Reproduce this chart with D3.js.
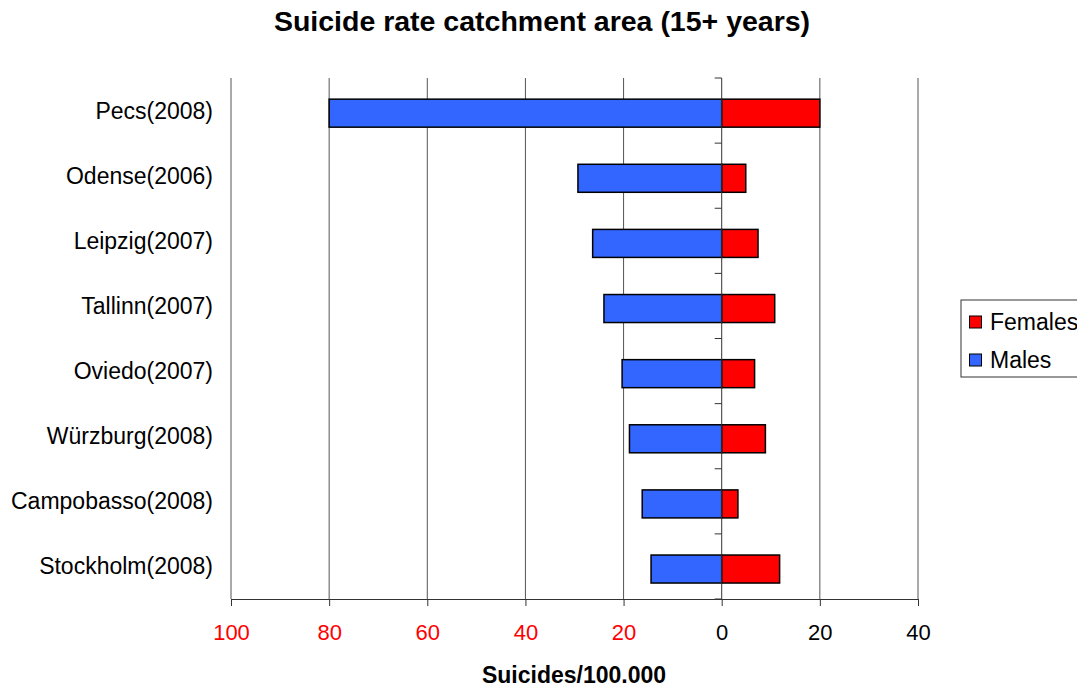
<!DOCTYPE html>
<html>
<head>
<meta charset="utf-8">
<script src="https://cdn.jsdelivr.net/npm/d3@7"></script>
<style>
  body { margin: 0; background: #fff; overflow: hidden; }
  svg { display: block; font-family: "Liberation Sans", Arial, sans-serif; }
</style>
</head>
<body>
<svg id="chart" width="1077" height="688"></svg>
<script>
// Suicide rates per 100,000 inhabitants aged 15+, by catchment area
const categories = ["Pecs(2008)", "Odense(2006)", "Leipzig(2007)", "Tallinn(2007)",
                    "Oviedo(2007)", "Würzburg(2008)", "Campobasso(2008)", "Stockholm(2008)"];
const males   = [80, 29.3, 26.3, 24.0, 20.3, 18.8, 16.2, 14.4];
const females = [20, 4.9, 7.4, 10.8, 6.7, 8.9, 3.3, 11.8];
const tickValues = [-100, -80, -60, -40, -20, 0, 20, 40];
const seriesNames = ["Females", "Males"];
const seriesColors = { Females: "#ff0000", Males: "#3366ff" };

const svg = d3.select("#chart");
const plotLeft = 231, plotRight = 918, plotTop = 78, plotBottom = 599;

const x = d3.scaleLinear().domain([-100, 40]).range([plotLeft, plotRight]);
const y = d3.scaleBand().domain(categories).range([plotTop, plotBottom])
  .paddingInner(0.57).paddingOuter(0.285).align(0.57);
const yb = d3.scaleBand().domain(categories).range([plotTop, plotBottom]);

// vertical gridlines
svg.append("g").selectAll("line").data(tickValues.filter(v => v !== 0))
  .join("line")
  .attr("x1", d => x(d)).attr("x2", d => x(d))
  .attr("y1", plotTop).attr("y2", plotBottom)
  .attr("stroke", "#555").attr("stroke-width", 1);

// bars: males to the left of zero, females to the right
const bars = svg.append("g");
bars.selectAll("rect.m").data(categories).join("rect")
  .attr("class", "m")
  .attr("x", (d, i) => x(-males[i]))
  .attr("y", d => y(d))
  .attr("width", (d, i) => x(0) - x(-males[i]))
  .attr("height", y.bandwidth())
  .attr("fill", seriesColors.Males)
  .attr("stroke", "#000").attr("stroke-width", 1.5);
bars.selectAll("rect.f").data(categories).join("rect")
  .attr("class", "f")
  .attr("x", x(0))
  .attr("y", d => y(d))
  .attr("width", (d, i) => x(females[i]) - x(0))
  .attr("height", y.bandwidth())
  .attr("fill", seriesColors.Females)
  .attr("stroke", "#000").attr("stroke-width", 1.5);

// category axis along zero
const yAxisLine = svg.append("g");
yAxisLine.append("line")
  .attr("x1", x(0)).attr("x2", x(0)).attr("y1", plotTop).attr("y2", plotBottom)
  .attr("stroke", "#333").attr("stroke-width", 1);
yAxisLine.selectAll("line.tk").data(categories.concat(["end"])).join("line")
  .attr("class", "tk")
  .attr("x1", x(0) - 7).attr("x2", x(0))
  .attr("y1", (d, i) => plotTop + i * yb.step()).attr("y2", (d, i) => plotTop + i * yb.step())
  .attr("stroke", "#333").attr("stroke-width", 1);

// category labels
svg.append("g").selectAll("text").data(categories).join("text")
  .attr("x", 213)
  .attr("y", d => yb(d) + yb.bandwidth() / 2)
  .attr("dy", "0.35em")
  .attr("text-anchor", "end")
  .attr("font-size", 23)
  .attr("fill", "#000")
  .text(d => d);

// bottom value axis
const xAxis = d3.axisBottom(x).tickValues(tickValues).tickSize(7).tickSizeOuter(0)
  .tickFormat(d => Math.abs(d));
const gx = svg.append("g").attr("transform", `translate(0,${plotBottom})`).call(xAxis);
gx.select(".domain").attr("stroke", "#333");
gx.selectAll(".tick line").attr("stroke", "#333");
gx.selectAll(".tick text")
  .attr("y", 25)
  .attr("dy", "0.71em")
  .attr("font-size", 22)
  .attr("font-family", "Liberation Sans, Arial, sans-serif")
  .attr("fill", d => d < 0 ? "#ff0000" : "#000");

// titles
svg.append("text").attr("x", 542).attr("y", 31)
  .attr("text-anchor", "middle").attr("font-size", 28.5).attr("font-weight", "bold")
  .text("Suicide rate catchment area (15+ years)");
svg.append("text").attr("x", 574).attr("y", 683)
  .attr("text-anchor", "middle").attr("font-size", 23).attr("font-weight", "bold")
  .text("Suicides/100.000");

// legend
const lg = svg.append("g");
lg.append("rect").attr("x", 961).attr("y", 300).attr("width", 130).attr("height", 77)
  .attr("fill", "#fff").attr("stroke", "#333").attr("stroke-width", 1);
seriesNames.forEach((s, i) => {
  const cy = 322 + i * 38;
  lg.append("rect").attr("x", 969.5).attr("y", cy - 6).attr("width", 12).attr("height", 12)
    .attr("fill", seriesColors[s]).attr("stroke", "#000").attr("stroke-width", 1);
  lg.append("text").attr("x", 990).attr("y", cy).attr("dy", "0.35em")
    .attr("font-size", 23).text(s);
});
</script>
</body>
</html>
